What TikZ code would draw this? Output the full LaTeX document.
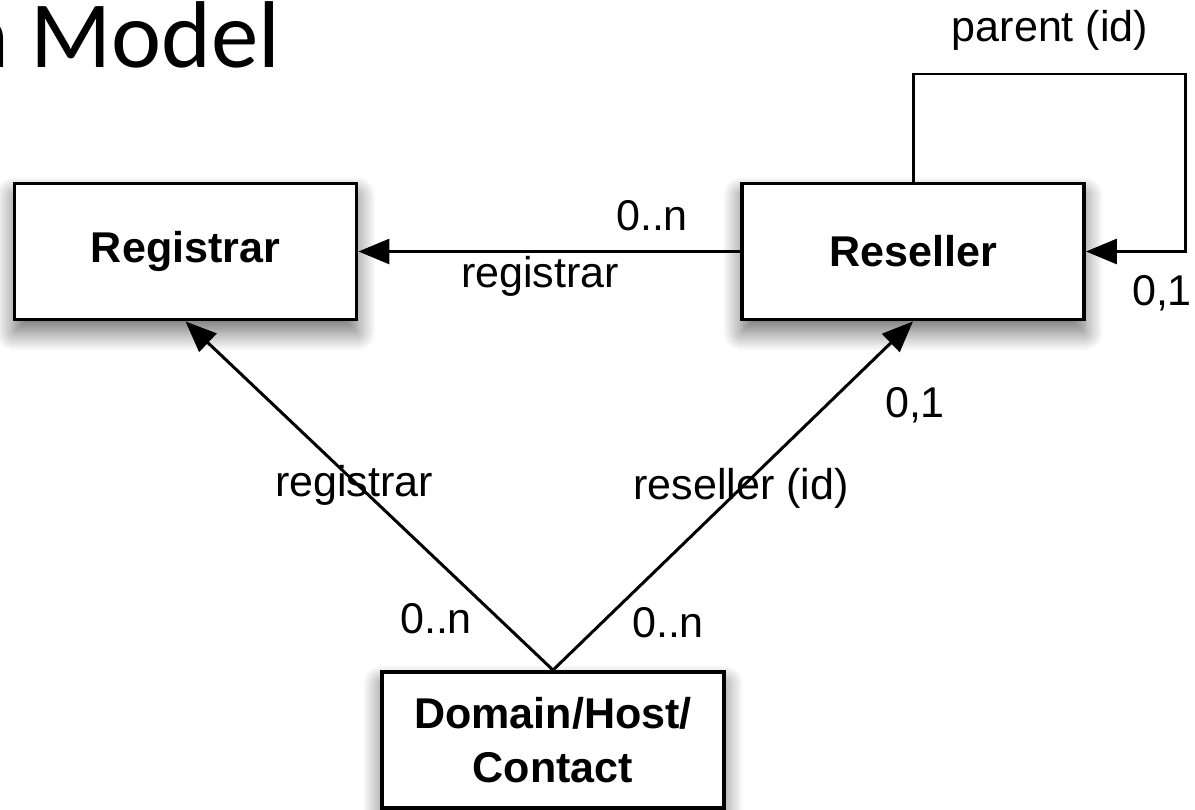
\documentclass[tikz,border=0pt]{standalone}
\usepackage{fontspec}
\setsansfont{Liberation Sans}
\newfontfamily\titlefont{Carlito}
\usetikzlibrary{arrows.meta,shadows.blur}
\tikzset{
    entity/.style={draw, line width=2.2pt, fill=white, minimum width=6.84cm, minimum height=2.72cm,
        inner sep=0pt, align=center, font=\sffamily\bfseries\fontsize{24.5}{31}\selectfont,
        blur shadow={shadow xshift=0pt, shadow yshift=-7pt, shadow blur radius=11pt,
            shadow blur steps=20, shadow opacity=60}},
    rel/.style={line width=1.7pt, -{Triangle[length=0.62cm,width=0.5cm]}},
    lbl/.style={font=\sffamily\fontsize{24.5}{28}\selectfont, anchor=base, inner sep=0pt}
}
\begin{document}
\begin{tikzpicture}
        \useasboundingbox (0,0) rectangle (23.9,16.18);
        \clip (0,0) rectangle (23.9,16.18);
        % Titel
        \node[anchor=base east, inner sep=0pt, font=\titlefont\fontsize{54}{60}\selectfont] (title) at (5.62,14.82) {n Model};

        % Entidades
        \node[entity] (registrar) at (3.71,11.15) {Registrar};
        \node[entity] (reseller) at (18.26,11.15) {Reseller};
        \node[entity] (domain) at (11.06,1.38) {Domain/Host/\\Contact};

        % Relaciones
        \coordinate (loopcorner) at (23.70,14.70);
        \draw[rel] (reseller.north) |- (loopcorner) |- (reseller.east);
        \draw[rel] (reseller) -- (registrar);
        \draw[rel] (domain.north) -- (registrar.south);
        \draw[rel] (domain.north) -- (reseller.south);

        % Etiquetas
        \node[lbl] (parentlbl) at (21.00,15.34) {parent (id)};
        \node[lbl] (loopone) at (23.24,10.08) {0,1};
        \node[lbl] (resmany) at (13.04,11.58) {0..n};
        \node[lbl] (reglbl) at (10.80,10.44) {registrar};
        \node[lbl] (resone) at (18.30,7.84) {0,1};
        \node[lbl] (regdiag) at (7.08,6.26) {registrar};
        \node[lbl] (resdiag) at (14.82,6.20) {reseller (id)};
        \node[lbl] (leftmany) at (8.72,3.52) {0..n};
        \node[lbl] (rightmany) at (13.36,3.44) {0..n};
    \end{tikzpicture}
\end{document}
